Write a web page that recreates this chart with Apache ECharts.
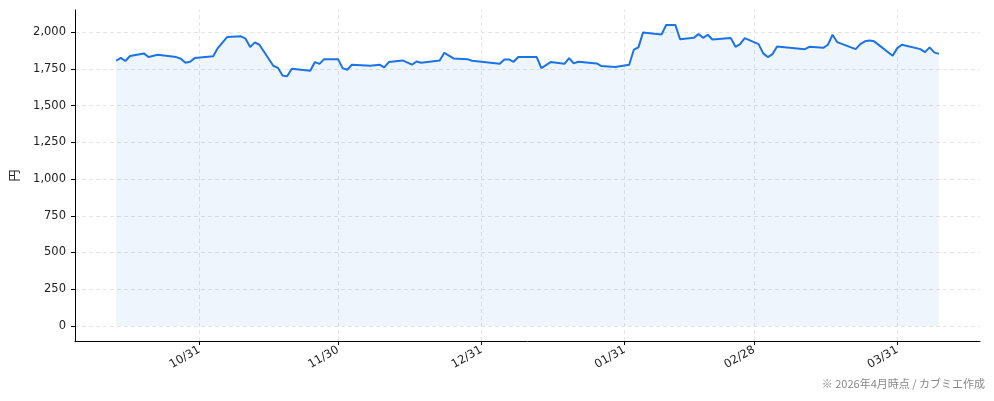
<!DOCTYPE html>
<html>
<head>
<meta charset="utf-8">
<script src="https://cdn.jsdelivr.net/npm/echarts@6/dist/echarts.min.js"></script>
<style>
html,body{margin:0;padding:0;background:#ffffff;}
#chart{width:994px;height:401px;}
</style>
</head>
<body>
<div id="chart"></div>
<script>
const dates = [
  '2025-10-13','2025-10-14','2025-10-15','2025-10-16','2025-10-19','2025-10-20','2025-10-22','2025-10-26',
  '2025-10-27','2025-10-28','2025-10-29','2025-10-30','2025-11-03','2025-11-04','2025-11-06','2025-11-09',
  '2025-11-10','2025-11-11','2025-11-12','2025-11-13','2025-11-16','2025-11-17','2025-11-18','2025-11-19',
  '2025-11-20','2025-11-24','2025-11-25','2025-11-26','2025-11-27','2025-11-30','2025-12-01','2025-12-02',
  '2025-12-03','2025-12-07','2025-12-09','2025-12-10','2025-12-11','2025-12-14','2025-12-16','2025-12-17',
  '2025-12-18','2025-12-22','2025-12-23','2025-12-25','2025-12-28','2025-12-29','2026-01-04','2026-01-05',
  '2026-01-06','2026-01-07','2026-01-08','2026-01-12','2026-01-13','2026-01-15','2026-01-18','2026-01-19',
  '2026-01-20','2026-01-21','2026-01-25','2026-01-26','2026-01-29','2026-02-01','2026-02-02','2026-02-03',
  '2026-02-04','2026-02-08','2026-02-09','2026-02-11','2026-02-12','2026-02-15','2026-02-16','2026-02-17',
  '2026-02-18','2026-02-19','2026-02-23','2026-02-24','2026-02-25','2026-02-26','2026-03-01','2026-03-02',
  '2026-03-03','2026-03-04','2026-03-05','2026-03-11','2026-03-12','2026-03-15','2026-03-16','2026-03-17',
  '2026-03-18','2026-03-22','2026-03-23','2026-03-24','2026-03-25','2026-03-26','2026-03-30','2026-03-31',
  '2026-04-01','2026-04-05','2026-04-06','2026-04-07','2026-04-08','2026-04-09'
];
const prices = [
  1805,1825,1803,1837,1855,1830,1846,1830,
  1819,1791,1798,1823,1835,1891,1966,1971,
  1955,1898,1930,1914,1771,1757,1705,1699,
  1750,1737,1796,1784,1816,1816,1755,1744,
  1778,1771,1778,1760,1796,1807,1778,1800,
  1791,1807,1859,1821,1816,1805,1784,1814,
  1814,1798,1830,1830,1755,1796,1784,1823,
  1787,1798,1787,1769,1762,1778,1880,1896,
  1998,1984,2048,2048,1952,1961,1986,1961,
  1982,1950,1959,1900,1918,1959,1918,1855,
  1830,1850,1902,1884,1900,1893,1914,1982,
  1932,1884,1918,1937,1943,1937,1839,1891,
  1914,1884,1864,1896,1862,1852
];
const yTickValues = [0,250,500,750,1000,1250,1500,1750,2000];
const xTickDates = ['2025-10-31','2025-11-30','2025-12-31','2026-01-31','2026-02-28','2026-03-31'];
const yAxisName = '円';
const footnote = '※ 2026年4月時点 / カブミエ作成';

function toTs(s){ const p = s.split('-').map(Number); return Date.UTC(p[0], p[1]-1, p[2]); }
const seriesData = dates.map((d,i) => [toTs(d), prices[i]]);
const xTickTs = xTickDates.map(toTs);
const firstTs = toTs(dates[0]), lastTs = toTs(dates[dates.length-1]);
const xPad = (lastTs - firstTs) * 0.05;
const yMaxData = Math.max.apply(null, prices);
const yPad = yMaxData * 0.05;

const FONT = "'DejaVu Sans', 'Noto Sans CJK JP', sans-serif";
const CJK = "'Noto Sans CJK JP', 'DejaVu Sans', sans-serif";
const gridLineStyle = { color: '#dedede', width: 0.8, type: [4, 3] };

const chart = echarts.init(document.getElementById('chart'), null, { renderer: 'canvas' });
chart.setOption({
  animation: false,
  backgroundColor: '#ffffff',
  textStyle: { fontFamily: FONT },
  grid: { left: 75, right: 14, top: 10, bottom: 60, containLabel: false, outerBoundsMode: 'none' },
  xAxis: {
    type: 'value',
    min: firstTs - xPad,
    max: lastTs + xPad,
    axisLine: { show: true, onZero: false, lineStyle: { color: '#000', width: 1 } },
    axisTick: { show: true, length: 4, lineStyle: { color: '#000', width: 1 }, customValues: xTickTs },
    axisLabel: {
      show: true, customValues: xTickTs, rotate: 30, margin: 8,
      color: '#222', fontSize: 11.5, fontFamily: FONT,
      formatter: function (v) {
        const d = new Date(v);
        return String(d.getUTCMonth()+1).padStart(2,'0') + '/' + String(d.getUTCDate()).padStart(2,'0');
      }
    },
    splitLine: { show: false }
  },
  yAxis: {
    type: 'value',
    min: -yPad,
    max: yMaxData + yPad,
    name: yAxisName,
    nameLocation: 'middle',
    nameRotate: 90,
    nameGap: 55,
    nameTextStyle: { color: '#222', fontSize: 12, fontFamily: CJK },
    axisLine: { show: true, lineStyle: { color: '#000', width: 1 } },
    axisTick: { show: true, length: 4, lineStyle: { color: '#000', width: 1 }, customValues: yTickValues },
    axisLabel: {
      show: true, customValues: yTickValues, margin: 9,
      color: '#222', fontSize: 11.5, fontFamily: FONT,
      formatter: function (v) { return Number(v).toLocaleString('en-US'); }
    },
    splitLine: { show: false }
  },
  series: [{
    type: 'line',
    name: 'grid',
    z: 1,
    data: [],
    silent: true,
    markLine: {
      z: 0,
      silent: true,
      symbol: ['none', 'none'],
      label: { show: false },
      lineStyle: gridLineStyle,
      emphasis: { disabled: true },
      data: yTickValues.map(v => ({ yAxis: v })).concat(xTickTs.map(t => ({ xAxis: t })))
    }
  }, {
    type: 'line',
    name: 'price',
    z: 10,
    data: seriesData,
    showSymbol: false,
    symbol: 'none',
    lineStyle: { color: '#1a73e8', width: 2 },
    itemStyle: { color: '#1a73e8' },
    areaStyle: { color: 'rgba(26,115,232,0.1)', origin: 'auto' }
  }],
  graphic: [{
    type: 'text',
    right: 9,
    top: 378,
    style: { text: footnote, fill: '#888', fontSize: 11, fontFamily: CJK }
  }]
});
</script>
</body>
</html>
